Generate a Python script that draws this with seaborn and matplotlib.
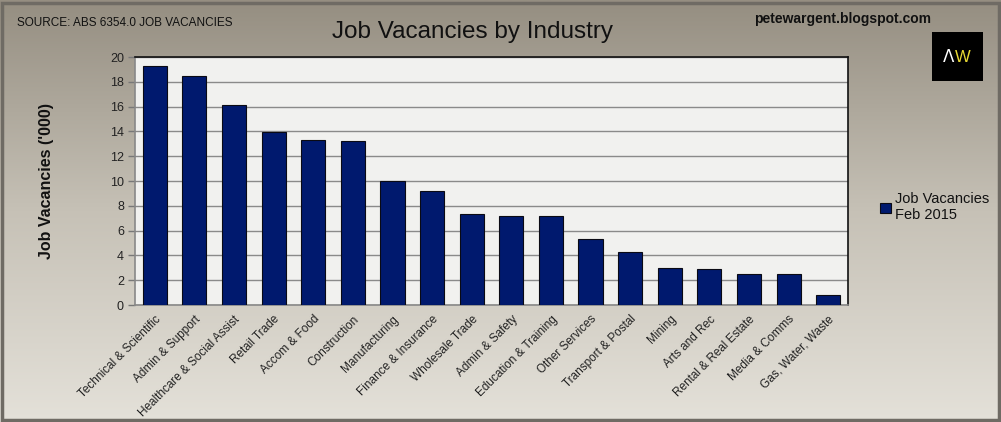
import numpy as np
import pandas as pd
import matplotlib
matplotlib.use("Agg")
import matplotlib.pyplot as plt
import seaborn as sns
from matplotlib.patches import Rectangle

categories = ["Technical & Scientific", "Admin & Support", "Healthcare & Social Assist",
              "Retail Trade", "Accom & Food", "Construction", "Manufacturing",
              "Finance & Insurance", "Wholesale Trade", "Admin & Safety",
              "Education & Training", "Other Services", "Transport & Postal",
              "Mining", "Arts and Rec", "Rental & Real Estate", "Media & Comms",
              "Gas, Water, Waste"]
values = [19.3, 18.5, 16.1, 13.95, 13.3, 13.2, 10.0, 9.2, 7.3, 7.2, 7.2,
          5.3, 4.3, 3.0, 2.9, 2.5, 2.5, 0.8]
y_ticks = list(range(0, 21, 2))
series_label = "Job Vacancies\nFeb 2015"

sns.set_theme(style="white")
plt.rcParams['font.family'] = ['Liberation Sans', 'DejaVu Sans']

W, H = 1001, 422
fig = plt.figure(figsize=(W / 100, H / 100), dpi=100)

# background gradient
bg = fig.add_axes([0, 0, 1, 1], zorder=-10)
grad = np.linspace(0, 1, 256).reshape(-1, 1)
cmap = matplotlib.colors.LinearSegmentedColormap.from_list("bg", ["#958e81", "#c6c1b6", "#e4e1d9"])
bg.imshow(grad, aspect="auto", cmap=cmap, extent=[0, 1, 0, 1], origin="upper")
bg.set_axis_off()
fig.patches.append(Rectangle((0.002, 0.004), 0.996, 0.99, transform=fig.transFigure,
                             fill=False, edgecolor="#6f6b64", linewidth=2.5))

left, right, top, bottom = 135, 848, 57, 305
ax = fig.add_axes([left / W, 1 - bottom / H, (right - left) / W, (bottom - top) / H])
ax.set_facecolor("#f1f1ef")

df = pd.DataFrame({"Industry": categories, "Vacancies": values})
sns.barplot(data=df, x="Industry", y="Vacancies", color="#00196e", saturation=1,
            width=0.61, edgecolor="#0a0a14", linewidth=0.8, ax=ax, label=series_label,
            zorder=3)

ax.set_ylim(0, 20)
ax.set_xlim(-0.5, len(categories) - 0.5)
ax.set_yticks(y_ticks)
ax.set_yticklabels([str(t) for t in y_ticks], fontsize=9, color="#222222")
ax.yaxis.grid(True, color="#8a8a8a", linewidth=1, zorder=1)
ax.set_axisbelow(True)

ax.set_xticks(range(len(categories)))
ax.set_xticklabels(categories, rotation=45, ha="right", rotation_mode="anchor",
                   fontsize=8.5, color="#222222")
ax.tick_params(axis="x", length=0, pad=6)
ax.set_xticks(np.arange(-0.5, len(categories)), minor=True)
ax.tick_params(axis="x", which="minor", length=5, color="#777777", width=1)
ax.tick_params(axis="y", length=5, color="#777777", width=1, left=True, pad=3)
ax.set_xlabel("")
ax.set_ylabel("Job Vacancies ('000)", fontsize=11.5, fontweight="bold", color="#111111", labelpad=40)

for s in ["top", "right"]:
    ax.spines[s].set_color("#111111")
    ax.spines[s].set_linewidth(1.2)
for s in ["left", "bottom"]:
    ax.spines[s].set_color("#888888")
    ax.spines[s].set_linewidth(1.2)

leg = ax.legend(loc="upper left", bbox_to_anchor=(873 / W, 1 - 185 / H),
                bbox_transform=fig.transFigure, frameon=False, fontsize=10.5,
                handlelength=0.7, handleheight=0.7, handletextpad=0.3, borderpad=0)
for t in leg.get_texts():
    t.set_color("#111111")

fig.text(473 / W, 1 - 32 / H, "Job Vacancies by Industry", fontsize=17.5,
         ha="center", va="center", color="#111111")
fig.text(17 / W, 1 - 23 / H, "SOURCE: ABS 6354.0 JOB VACANCIES", fontsize=8.5,
         ha="left", va="center", color="#111111")
fig.text(843 / W, 1 - 19 / H, "petewargent.blogspot.com", fontsize=10,
         fontweight="bold", ha="center", va="center", color="#111111")

# logo
fig.patches.append(Rectangle((932 / W, 1 - 81 / H), 51 / W, 49 / H, transform=fig.transFigure,
                             facecolor="black", edgecolor="none", zorder=5))
fig.text(954 / W, 1 - 57 / H, "Λ", fontsize=12, color="white", ha="right", va="center",
         family="DejaVu Sans", zorder=6)
fig.text(955 / W, 1 - 57 / H, "W", fontsize=12, color="#e8d833", ha="left", va="center", zorder=6)

fig.savefig("out.png", dpi=100)
